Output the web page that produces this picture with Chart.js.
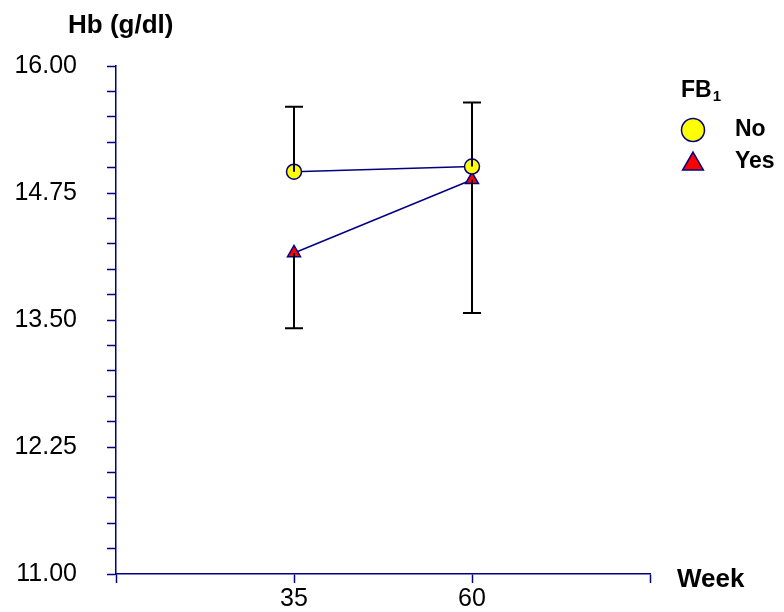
<!DOCTYPE html>
<html>
<head>
<meta charset="utf-8">
<script src="https://cdn.jsdelivr.net/npm/chart.js@4.4.1/dist/chart.umd.min.js"></script>
<style>
  html, body { margin: 0; padding: 0; background: #fff; }
</style>
</head>
<body>
<canvas id="hbChart" width="784" height="612"></canvas>
<script>
// values
const weeks = [35, 60];
const noMean = [14.96, 15.01];
const noErr = [0.64, 0.63];     // drawn upward
const yesMean = [14.16, 14.88];
const yesErr = [0.74, 1.31];    // drawn downward
const xTicks = [10, 35, 60, 85];
const xLabels = [35, 60];
const yLabels = [11, 12.25, 13.5, 14.75, 16];

const NAVY = '#000080';
const FONT = '"Liberation Sans", Arial, sans-serif';

const toPoints = (xs, ys) => xs.map((x, i) => ({ x: x, y: ys[i] }));

// error bars, one-sided (dir: +1 up, -1 down)
const errorBars = {
    id: 'errorBars',
    afterDatasetsDraw(chart) {
        const ctx = chart.ctx;
        const ys = chart.scales.y;
        ctx.save();
        ctx.strokeStyle = '#000';
        ctx.lineWidth = 2;
        chart.data.datasets.forEach((ds, i) => {
            const meta = chart.getDatasetMeta(i);
            meta.data.forEach((pt, j) => {
                const end = ds.data[j].y + ds.errDir * ds.err[j];
                const yEnd = ys.getPixelForValue(end);
                ctx.beginPath();
                ctx.moveTo(pt.x, pt.y);
                ctx.lineTo(pt.x, yEnd);
                ctx.moveTo(pt.x - 9, yEnd);
                ctx.lineTo(pt.x + 9, yEnd);
                ctx.stroke();
            });
        });
        ctx.restore();
    }
};

function drawMarker(ctx, style, x, y, r) {
    ctx.beginPath();
    if (style === 'triangle') {
        ctx.moveTo(x, y - r);
        ctx.lineTo(x + Math.sin(2 * Math.PI / 3) * r, y + r / 2);
        ctx.lineTo(x - Math.sin(2 * Math.PI / 3) * r, y + r / 2);
        ctx.closePath();
    } else {
        ctx.arc(x, y, r, 0, Math.PI * 2);
    }
    ctx.fill();
    ctx.stroke();
}

// axis titles + legend
const labelsPlugin = {
    id: 'labelsPlugin',
    afterDraw(chart) {
        const ctx = chart.ctx;
        ctx.save();
        ctx.fillStyle = '#000';
        ctx.textAlign = 'left';
        ctx.textBaseline = 'alphabetic';
        ctx.font = 'bold 26px ' + FONT;
        ctx.fillText('Hb (g/dl)', 68, 33);
        ctx.fillText('Week', 677, 587);

        // legend
        ctx.font = 'bold 23px ' + FONT;
        ctx.fillText('FB', 681, 97);
        const w = ctx.measureText('FB').width;
        ctx.font = 'bold 15px ' + FONT;
        ctx.fillText('1', 681 + w + 1, 101);

        const rows = [130, 162];
        const sizes = [11.5, 12];
        const offs = [0, 2];
        chart.data.datasets.forEach((ds, i) => {
            ctx.fillStyle = ds.pointBackgroundColor;
            ctx.strokeStyle = ds.pointBorderColor;
            ctx.lineWidth = 1.5;
            drawMarker(ctx, ds.pointStyle, 693, rows[i] + offs[i], sizes[i]);
            ctx.fillStyle = '#000';
            ctx.font = 'bold 23px ' + FONT;
            ctx.textBaseline = 'middle';
            ctx.fillText(ds.label, 735, rows[i]);
        });
        ctx.restore();
    }
};

const chartData = {
    datasets: [
        {
            label: 'No',
            data: toPoints(weeks, noMean),
            err: noErr,
            errDir: 1,
            showLine: true,
            borderColor: NAVY,
            borderWidth: 1.5,
            pointStyle: 'circle',
            pointRadius: 7.5,
            pointBackgroundColor: '#ffff00',
            pointBorderColor: NAVY,
            pointBorderWidth: 1.5
        },
        {
            label: 'Yes',
            data: toPoints(weeks, yesMean),
            err: yesErr,
            errDir: -1,
            showLine: true,
            borderColor: NAVY,
            borderWidth: 1.5,
            pointStyle: 'triangle',
            pointRadius: 7.5,
            pointBackgroundColor: '#ff0000',
            pointBorderColor: NAVY,
            pointBorderWidth: 1.5
        }
    ]
};

const axisGrid = {
    drawOnChartArea: false,
    drawTicks: true,
    tickLength: 9,
    color: NAVY,
    tickColor: NAVY,
    tickWidth: 1.5
};

const options = {
    responsive: false,
    animation: false,
    devicePixelRatio: 1,
    layout: {
        padding: { left: 0, top: 66, right: 134, bottom: 0 }
    },
    scales: {
        x: {
            type: 'linear',
            min: 10,
            max: 85,
            afterBuildTicks: axis => { axis.ticks = xTicks.map(v => ({ value: v })); },
            afterFit: axis => { axis.height = 38; },
            border: { color: NAVY, width: 1.5 },
            grid: axisGrid,
            ticks: {
                autoSkip: false,
                maxRotation: 0,
                padding: 1,
                color: '#000',
                font: { family: FONT, size: 25 },
                callback: v => xLabels.includes(v) ? String(v) : ''
            }
        },
        y: {
            min: 11,
            max: 16,
            afterFit: axis => {
                axis.width = 116;
                // big tick padding would otherwise push the chart area up
                axis.paddingTop = 0;
                axis.paddingBottom = 0;
            },
            border: { color: NAVY, width: 1.5 },
            grid: axisGrid,
            ticks: {
                stepSize: 0.25,
                autoSkip: false,
                padding: 30,
                color: '#000',
                font: { family: FONT, size: 25 },
                callback: v => yLabels.some(l => Math.abs(l - v) < 1e-6) ? v.toFixed(2) : ''
            }
        }
    },
    plugins: {
        legend: { display: false },
        tooltip: { enabled: false }
    }
};

const hbChart = new Chart(document.getElementById('hbChart'), {
    type: 'scatter',
    data: chartData,
    options: options,
    plugins: [errorBars, labelsPlugin]
});
</script>
</body>
</html>
